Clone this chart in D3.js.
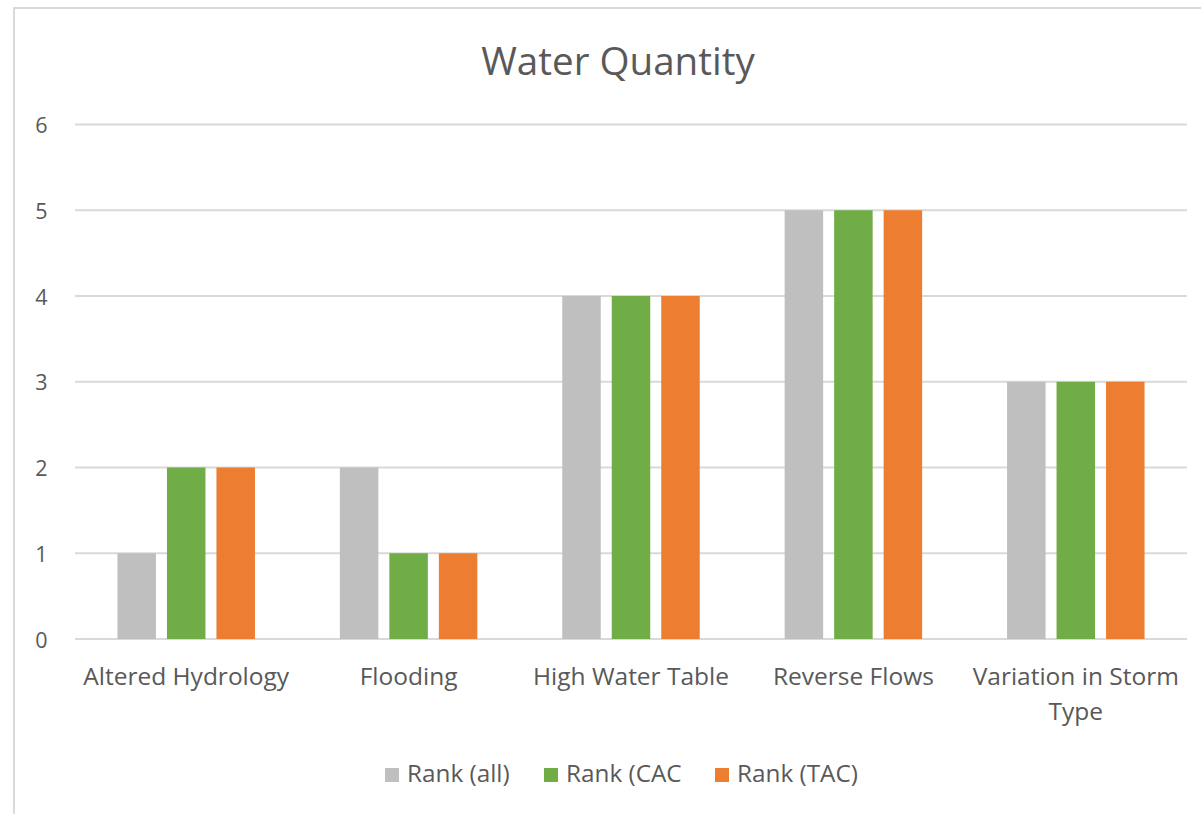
<!DOCTYPE html>
<html><head><meta charset="utf-8">
<script src="https://cdn.jsdelivr.net/npm/d3@7"></script>
<style>body{margin:0;background:#fff;} text{font-family:"Open Sans", sans-serif;}</style>
</head><body>
<svg id="chart" width="1201" height="814"></svg>
<script>
const categories = ["Altered Hydrology","Flooding","High Water Table","Reverse Flows","Variation in Storm Type"];
const seriesNames = ["Rank (all)","Rank (CAC","Rank (TAC)"];
const rankAll = [1,2,4,5,3];
const rankCAC = [2,1,4,5,3];
const rankTAC = [2,1,4,5,3];
const yTicks = [0,1,2,3,4,5,6];
const title = "Water Quantity";
const colors = ["#BFBFBF","#70AD47","#ED7D31"];

const series = [rankAll, rankCAC, rankTAC];
const svg = d3.select("#chart");
const textColor = "#595959";

// chart border
svg.append("rect").attr("x",14).attr("y",8).attr("width",1200).attr("height",820)
  .attr("fill","none").attr("stroke","#D9D9D9").attr("stroke-width",2);

const pLeft=75, pRight=1187, pTop=124.5, pBottom=639;
const x0 = d3.scaleBand().domain(categories).range([pLeft,pRight]).padding(0);
const y = d3.scaleLinear().domain([0,6]).range([pBottom,pTop]);

// gridlines
svg.append("g").selectAll("line").data(yTicks).join("line")
  .attr("x1",pLeft).attr("x2",pRight).attr("y1",d=>y(d)).attr("y2",d=>y(d))
  .attr("stroke","#D9D9D9").attr("stroke-width",2);

// y axis labels
const yAxis = d3.axisLeft(y).tickValues(yTicks).tickSize(0).tickPadding(0).tickFormat(d3.format("d"));
const gy = svg.append("g").attr("transform",`translate(41.5,0)`).call(yAxis);
gy.select(".domain").remove();
gy.selectAll("text").attr("font-size",21.5).attr("fill",textColor).attr("text-anchor","middle").attr("x",0).attr("dy","0.38em");

// bars
const groupW = 137.5;
const x1 = d3.scaleBand().domain(d3.range(3)).range([0,groupW]).paddingInner(11/49.5).paddingOuter(0);
const g = svg.append("g");
categories.forEach((c,i)=>{
  const cx = x0(c) + x0.bandwidth()/2 - groupW/2;
  series.forEach((s,j)=>{
    g.append("rect").attr("x",cx + x1(j)).attr("width",x1.bandwidth())
      .attr("y",y(s[i])).attr("height",y(0)-y(s[i])).attr("fill",colors[j]);
  });
});

// x labels
const xl = svg.append("g");
categories.forEach(c=>{
  const cx = x0(c)+x0.bandwidth()/2;
  const t = xl.append("text").attr("x",cx).attr("y",685).attr("text-anchor","middle")
    .attr("font-size",24.5).attr("fill",textColor);
  const words = c.split(" ");
  let line=[], lines=[];
  const tmp = t.append("tspan");
  words.forEach(w=>{
    line.push(w);
    tmp.text(line.join(" "));
    if (tmp.node().getComputedTextLength() > 218 && line.length>1){
      line.pop(); lines.push(line.join(" ")); line=[w];
    }
  });
  lines.push(line.join(" "));
  tmp.remove();
  lines.forEach((l,k)=>{
    t.append("tspan").attr("x",cx).attr("dy",k===0?0:35).text(l);
  });
});

// title
svg.append("text").attr("x",618).attr("y",75).attr("text-anchor","middle")
  .attr("font-size",38.6).attr("fill",textColor).text(title);

// legend
const legendX = [385, 544, 715];
const lg = svg.append("g");
seriesNames.forEach((n,j)=>{
  lg.append("rect").attr("x",legendX[j]).attr("y",768).attr("width",14).attr("height",14).attr("fill",colors[j]);
  lg.append("text").attr("x",legendX[j]+22).attr("y",782).attr("font-size",24.3).attr("fill",textColor).text(n);
});
</script>
</body></html>
